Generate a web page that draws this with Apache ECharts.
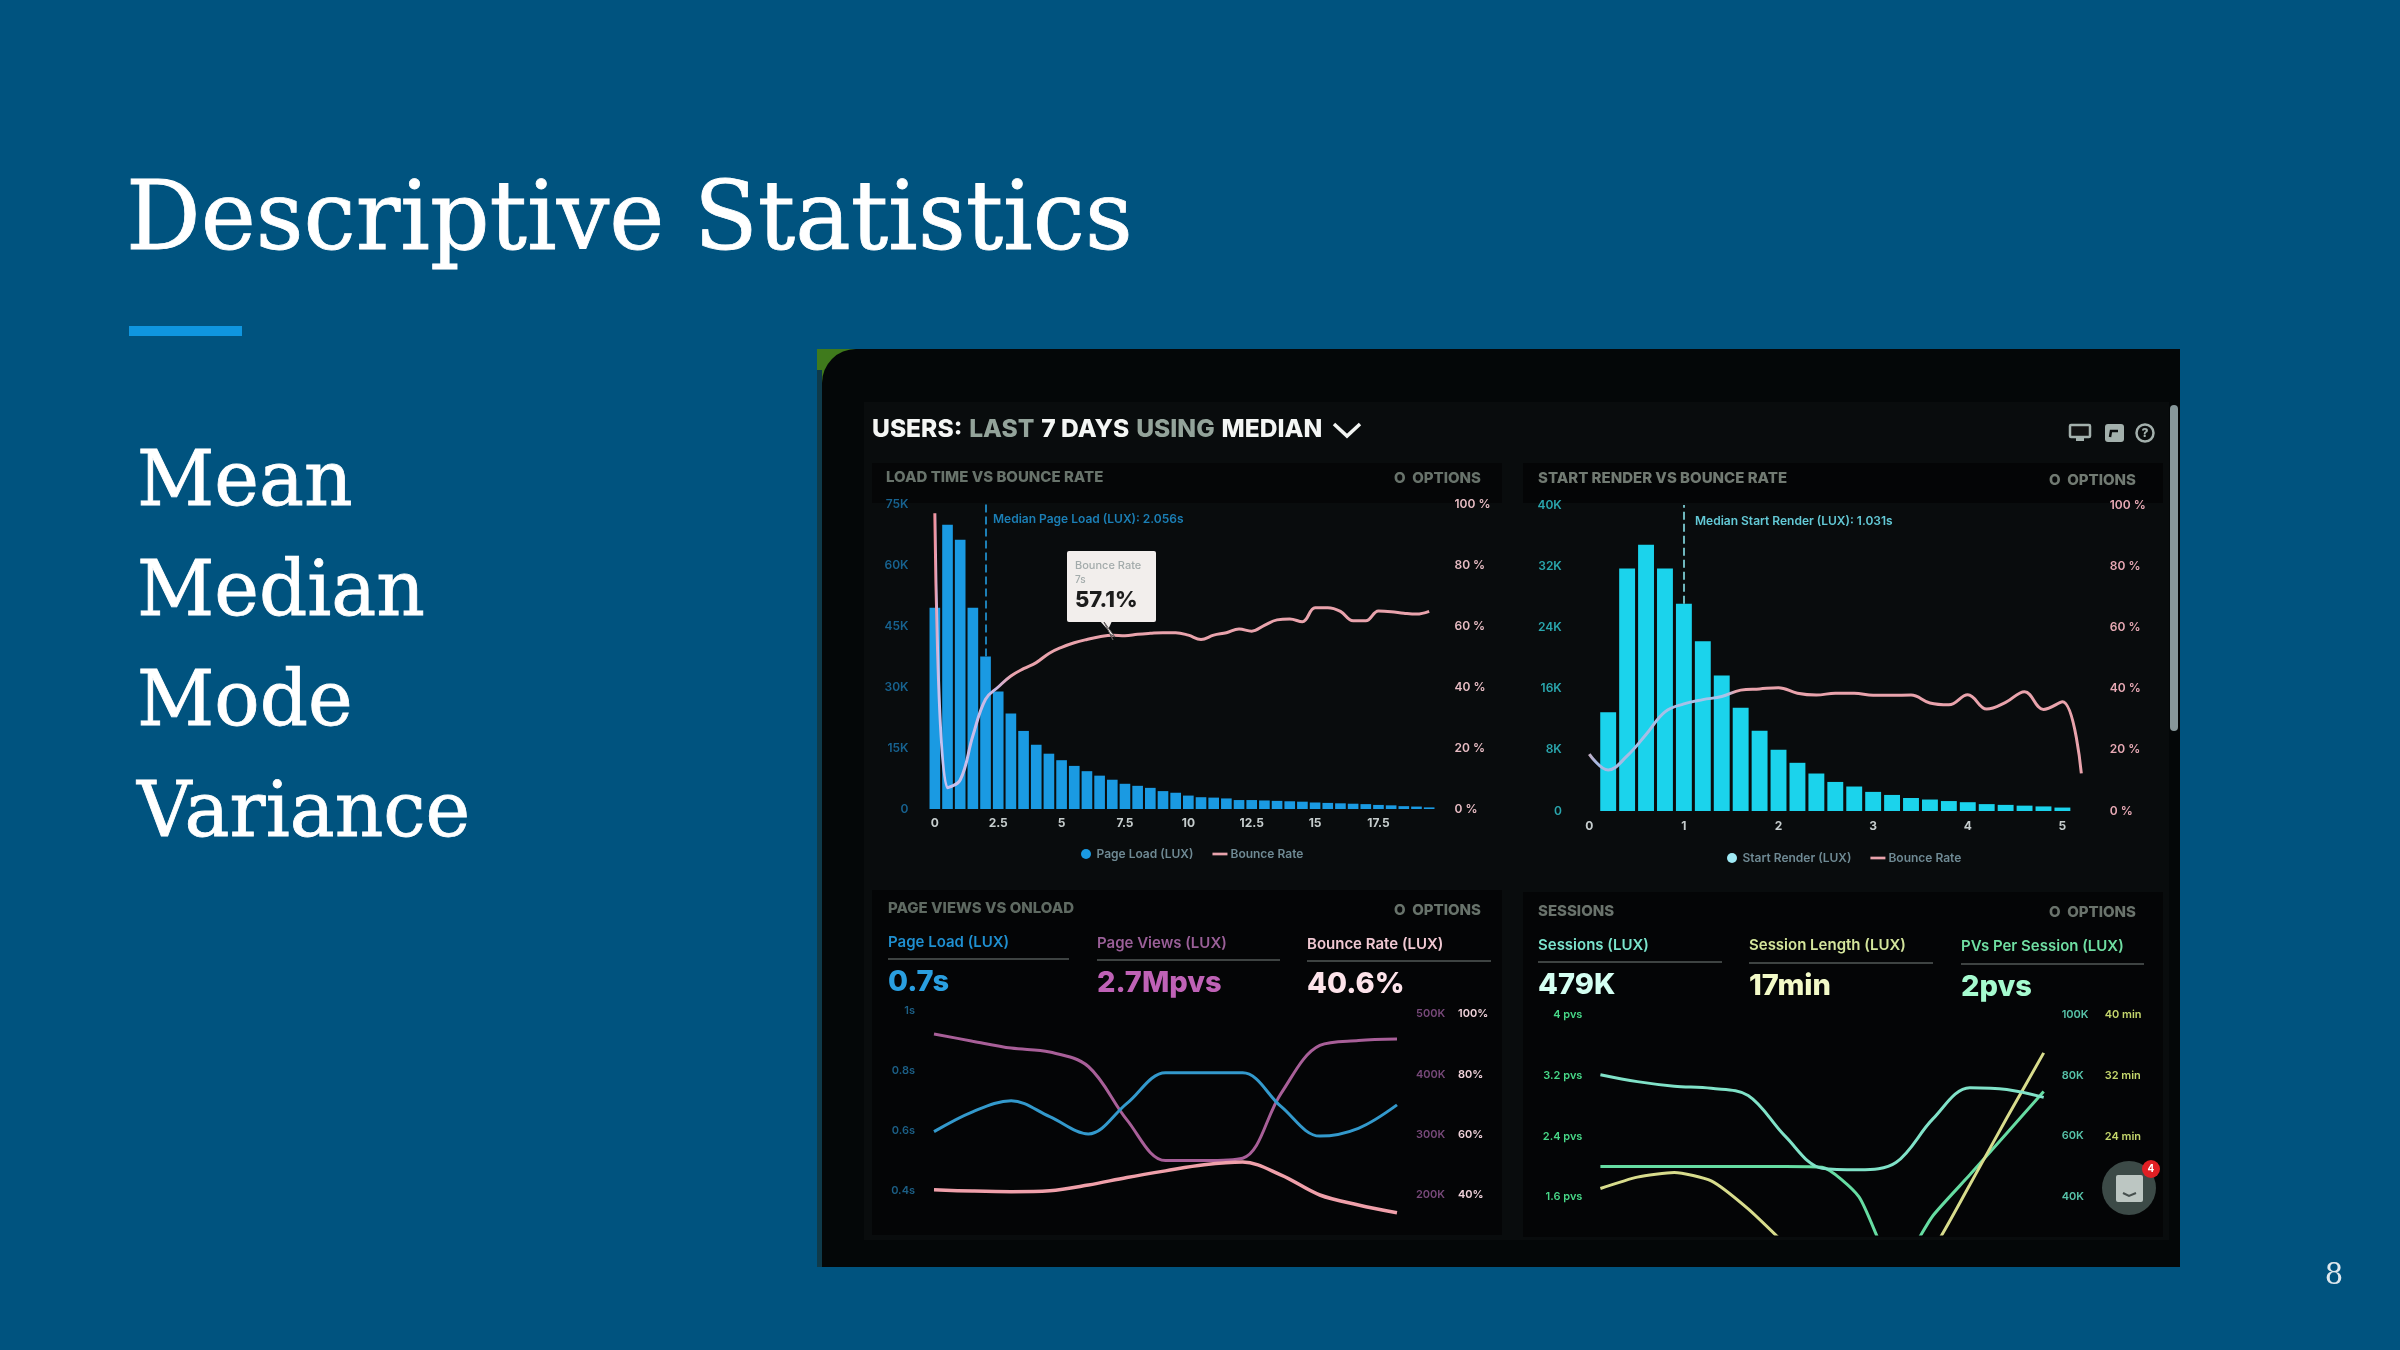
<!DOCTYPE html>
<html><head><meta charset="utf-8">
<style>html,body{margin:0;padding:0;background:#00537f}#c{width:2400px;height:1350px;filter:blur(0.5px)}</style>
<script src="https://cdn.jsdelivr.net/npm/echarts@6/dist/echarts.min.js"></script>
</head><body><div id="c"></div>
<script>
// ---------- data ----------
const loadCats = ["0","0.5","1","1.5","2","2.5","3","3.5","4","4.5","5","5.5","6","6.5","7","7.5","8","8.5","9","9.5","10","10.5","11","11.5","12","12.5","13","13.5","14","14.5","15","15.5","16","16.5","17","17.5","18","18.5","19","19.5"];
const pageLoad = [49.5,69.9,66.2,49.5,37.5,28.9,23.5,19.2,15.8,13.6,12,10.6,9.3,8.2,7.2,6.2,5.7,5.2,4.4,4,3.3,2.9,2.8,2.6,2.2,2.2,2.1,2,1.9,1.8,1.6,1.5,1.4,1.3,1.2,1,0.9,0.7,0.6,0.4];
const loadBounce = [97,7,9.5,24,36,40,43.6,46,48,51,53,54.5,55.6,56.5,57,56.8,57.3,57.6,57.8,57.8,57,55.6,57,57.8,59,58.3,60.2,62,62.3,61.4,66,66,64.8,61.7,61.7,64.9,64.7,64.2,63.9,64.8];
const renderCats = ["0","0.2","0.4","0.6","0.8","1","1.2","1.4","1.6","1.8","2","2.2","2.4","2.6","2.8","3","3.2","3.4","3.6","3.8","4","4.2","4.4","4.6","4.8","5","5.2"];
const startRender = [null,12.9,31.7,34.8,31.7,27.1,22.2,17.7,13.5,10.5,8,6.3,4.9,3.8,3.2,2.5,2.1,1.7,1.5,1.3,1.15,0.9,0.8,0.7,0.6,0.45,null];
const renderBounce = [18.6,13.4,18,25,32.4,35,36.4,37.4,39.5,39.9,40.3,38.5,37.9,38.5,38.5,37.8,37.8,37.9,35.3,34.7,38,33.3,35.5,39,33.2,35.7,12.3];
const timeCats = ["1","2","3","4","5","6","7","8","9","10","11","12","13"];
const onload = [0.598,0.664,0.701,0.648,0.59,0.692,0.794,0.794,0.794,0.681,0.583,0.609,0.687];
const pageViews = [467,455,443.5,437,413,324.5,257,257,261,369,448,456,458.5];
const bounceLine = [41.7,41.3,41.1,41.4,43.3,45.8,48,50,50.9,46.6,40,36.7,34.1];
const sessions = [80.3,78,76.5,75.8,73.4,60,49.4,48.9,51.3,65.7,76,75.4,72.8];
const sessionLength = [17.1,18.6,19.2,18.1,14.4,9.75,5,3,3,9,17.6,26.4,35];
const pvsPerSession = [2,2,2,2,2,2,1.99,1.6,0.63,1.35,1.89,2.44,2.99];
const bullets = ["Mean","Median","Mode","Variance"];
// ---------- style ----------
const UI = "Inter, 'Open Sans', sans-serif";
const SERIF = "'DejaVu Serif', serif";
const PINK = "#e9a3ac";
const LINE_ICON = 'path://M0 0H100V18H0z';
function T(x,y,text,size,fill,weight,align,z,font){
  return {type:'text',z:z||50,x:x,y:y,style:{text:text,fontSize:size,fill:fill,fontWeight:weight||600,fontFamily:font||UI,align:align||'left',verticalAlign:'middle'},silent:true};
}
function R(x,y,w,h,fill,z,r){
  return {type:'rect',z:z===undefined?-5:z,shape:{x:x,y:y,width:w,height:h,r:r||0},style:{fill:fill},silent:true};
}
function rule(x1,x2,y){return R(x1,y-1,x2-x1,2,'#3e4342',50);}
const SPACE = {axisLine:{show:false},axisTick:{show:false},splitLine:{show:false}};
function yAxis(grid,pos,min,max,vals,fmt,color,margin,size,extra){
  return Object.assign({type:'value',gridIndex:grid,position:pos,min:min,max:max},SPACE,{
    axisLabel:{customValues:vals,formatter:fmt,color:color,margin:margin,fontSize:size||11,fontWeight:600,fontFamily:UI,align:pos==='left'?'right':'left',hideOverlap:false}
  },extra||{});
}
const option = {
  backgroundColor:'#00537f',
  animation:false,
  grid:[
    {left:928.5,top:504,width:507,height:305},
    {left:1579.8,top:505,width:511,height:306},
    {left:934,top:1011,width:463,height:222},
    {left:1600.4,top:1015,width:443.3,height:219}
  ],
  legend:[
    {left:1076,top:843,itemWidth:15,itemHeight:10,itemGap:19,data:[{name:'Page Load (LUX)',icon:'circle',itemStyle:{color:'#1a9ae2'}},{name:'Bounce Rate',icon:LINE_ICON,itemStyle:{color:PINK}}],textStyle:{color:'#6f8a94',fontSize:12,fontWeight:600,fontFamily:UI,padding:[0,0,0,-2]},selectedMode:false},
    {left:1722,top:847,itemWidth:15,itemHeight:10,itemGap:19,data:[{name:'Start Render (LUX)',icon:'circle',itemStyle:{color:'#9feaf5'}},{name:'Bounce Rate',icon:LINE_ICON,itemStyle:{color:PINK}}],textStyle:{color:'#6f8a94',fontSize:12,fontWeight:600,fontFamily:UI,padding:[0,0,0,-2]},selectedMode:false}
  ],
  xAxis:[
    {type:'category',gridIndex:0,data:loadCats,axisLine:{show:false},axisTick:{show:false},axisLabel:{interval:4,color:'#c6cdcd',fontSize:12,fontWeight:700,fontFamily:UI,margin:8}},
    {type:'category',gridIndex:1,data:renderCats,axisLine:{show:false},axisTick:{show:false},axisLabel:{interval:4,color:'#c6cdcd',fontSize:12,fontWeight:700,fontFamily:UI,margin:9}},
    {type:'category',gridIndex:2,data:timeCats,boundaryGap:false,show:false},
    {type:'category',gridIndex:3,data:timeCats,boundaryGap:false,show:false}
  ],
  yAxis:[
    Object.assign({type:'value',gridIndex:0,min:0,max:75,interval:15},SPACE,{axisLabel:{formatter:v=>v?v+'K':'0',color:'#17628f',fontSize:12,fontWeight:600,fontFamily:UI,margin:20}}),
    Object.assign({type:'value',gridIndex:0,min:0,max:100,interval:20,position:'right'},SPACE,{axisLabel:{formatter:'{value} %',color:'#e7bcc3',fontSize:12,fontWeight:600,fontFamily:UI,margin:19,align:'left'}}),
    Object.assign({type:'value',gridIndex:1,min:0,max:40,interval:8},SPACE,{axisLabel:{formatter:v=>v?v+'K':'0',color:'#2aa6ad',fontSize:12,fontWeight:600,fontFamily:UI,margin:18}}),
    Object.assign({type:'value',gridIndex:1,min:0,max:100,interval:20,position:'right'},SPACE,{axisLabel:{formatter:'{value} %',color:'#e7a9b4',fontSize:12,fontWeight:600,fontFamily:UI,margin:19,align:'left'}}),
    yAxis(2,'left',0.26,1,[0.4,0.6,0.8,1],v=>v===1?'1s':v+'s','#1c5f86',19,11),
    yAxis(2,'right',137,505,[200,300,400,500],'{value}K','#78497a',19,11),
    yAxis(2,'right',27.4,101,[40,60,80,100],'{value}%','#f0d2da',61,11),
    yAxis(3,'left',1.109,4,[1.6,2.4,3.2,4],'{value} pvs','#48d888',18,11),
    yAxis(3,'right',27.7,100,[40,60,80,100],'{value}K','#58c4aa',18,11),
    yAxis(3,'right',11.09,40,[16,24,32,40],v=>v>=24?v+' min':'','#c4d66c',61,11)
  ],
  series:[
    {name:'Page Load (LUX)',type:'bar',xAxisIndex:0,yAxisIndex:0,data:pageLoad,barCategoryGap:'16%',itemStyle:{color:'#1a9ae2'},
     markLine:{silent:true,symbol:'none',label:{show:false},lineStyle:{color:'#1d7fb5',type:'dashed',width:2},data:[[{xAxis:'2',yAxis:37.5},{xAxis:'2',yAxis:75}]]}},
    {name:'Bounce Rate',type:'line',xAxisIndex:0,yAxisIndex:1,data:loadBounce,smooth:0.4,symbol:'none',z:5,
     lineStyle:{width:3,color:{type:'linear',x:0,y:0,x2:1,y2:0,colorStops:[{offset:0,color:'#f2909a'},{offset:0.005,color:'#f2909a'},{offset:0.012,color:'#c6c2f0'},{offset:0.125,color:'#c9b8e4'},{offset:0.16,color:PINK},{offset:1,color:PINK}]}}},
    {name:'Start Render (LUX)',type:'bar',xAxisIndex:1,yAxisIndex:2,data:startRender,barCategoryGap:'16%',itemStyle:{color:'#1bd3ec'},
     markLine:{silent:true,symbol:'none',label:{show:false},lineStyle:{color:'#6fb7bd',type:'dashed',width:2},data:[[{xAxis:'1',yAxis:27.1},{xAxis:'1',yAxis:40}]]}},
    {name:'Bounce Rate',type:'line',xAxisIndex:1,yAxisIndex:3,data:renderBounce,smooth:0.4,symbol:'none',z:5,
     lineStyle:{width:3,color:{type:'linear',x:0,y:0,x2:1,y2:0,colorStops:[{offset:0,color:'#c9a9b8'},{offset:0.02,color:'#a6b8e2'},{offset:0.28,color:'#a8c4ea'},{offset:0.3,color:PINK},{offset:1,color:PINK}]}}},
    {name:'Page Load',type:'line',xAxisIndex:2,yAxisIndex:4,data:onload,smooth:0.35,symbol:'none',z:4,lineStyle:{width:3,color:'#3399cc'}},
    {name:'Page Views',type:'line',xAxisIndex:2,yAxisIndex:5,data:pageViews,smooth:0.35,symbol:'none',z:3,lineStyle:{width:3,color:'#a85f98'}},
    {name:'Bounce',type:'line',xAxisIndex:2,yAxisIndex:6,data:bounceLine,smooth:0.35,symbol:'none',z:5,lineStyle:{width:3.5,color:'#f0a0aa'}},
    {name:'PVs',type:'line',xAxisIndex:3,yAxisIndex:7,data:pvsPerSession,smooth:0.2,symbol:'none',z:3,lineStyle:{width:3,color:'#66dca2'}},
    {name:'Sessions',type:'line',xAxisIndex:3,yAxisIndex:8,data:sessions,smooth:0.35,symbol:'none',z:5,lineStyle:{width:3,color:'#80e2c8'}},
    {name:'Length',type:'line',xAxisIndex:3,yAxisIndex:9,data:sessionLength,smooth:0.2,symbol:'none',z:4,lineStyle:{width:3,color:'#d8dc8c'}}
  ],
  graphic:{elements:[
    // accent bar + slide text
    R(129,326,113,10,'#0f96e0',1),
    {type:'text',z:2,x:126,y:177,scaleX:0.98,style:{text:'Descriptive Statistics',fontSize:95,fill:'#fff',stroke:'#fff',lineWidth:0.8,fontFamily:SERIF,fontWeight:400},silent:true},
    ...bullets.map((b,i)=>({type:'text',z:2,x:137,y:[446,556,666,777][i],scaleX:0.98,style:{text:b,fontSize:77,fill:'#fff',stroke:'#fff',lineWidth:0.8,fontFamily:SERIF,fontWeight:400},silent:true})),
    T(2334,1276,'8',29,'#dfe8ee',400,'center',2,SERIF),
    // screen
    R(817,349,60,60,'#3f7a1c',-9),
    R(822,349,1358,918,'#040708',-8,[34,0,0,0]),
    R(817,370,5,897,'#0f3a4a',-9),
    R(864,402,1305,838,'#090c0d',-7),
    R(872,463,630,40,'#050607',-6),
    R(1523,463,640,40,'#040506',-6),
    R(872,890,630,40,'#040506',-6),
    R(1523,892,640,40,'#040506',-6),
    R(872,930,630,305,'#040506',-6),
    R(1523,932,640,305,'#040506',-6),
    R(2170,405,8,326,'#87979a',20,4),
    // headline
    {type:'text',z:50,x:872,y:430,style:{rich:{w:{fill:'#f4f6f4',fontSize:24.6,fontWeight:800,fontFamily:UI},g:{fill:'#93a39a',fontSize:24.6,fontWeight:800,fontFamily:UI}},text:'{w|USERS:} {g|LAST} {w|7 DAYS} {g|USING} {w|MEDIAN}',verticalAlign:'middle',fontSize:24.6},silent:true},
    {type:'polyline',z:50,shape:{points:[[1334,424],[1347,436],[1360,424]]},style:{stroke:'#f2f4f2',lineWidth:3.5,fill:null},silent:true},
    // panel titles
    T(886,477,'LOAD TIME VS BOUNCE RATE',15,'#68736b',800),
    T(1394,478,'O  OPTIONS',15,'#68736b',800),
    T(1538,478,'START RENDER VS BOUNCE RATE',15,'#717a72',800),
    T(2049,480,'O  OPTIONS',15,'#717a72',800),
    T(888,908,'PAGE VIEWS VS ONLOAD',15,'#5f6a62',800),
    T(1394,910,'O  OPTIONS',15,'#68736b',800),
    T(1538,911,'SESSIONS',15,'#6a736c',800),
    T(2049,912,'O  OPTIONS',15,'#6a736c',800),
    // median labels
    T(993,519,'Median Page Load (LUX): 2.056s',12,'#1b7fb6',600),
    T(1695,521,'Median Start Render (LUX): 1.031s',12,'#63c9d6',600),
    // tooltip
    {type:'polygon',z:60,shape:{points:[[1100,621],[1112,621],[1108,630]]},style:{fill:'#f2eeec'},silent:true},
    R(1067,551,89,71,'#f2eeec',60,2),
    T(1075,566,'Bounce Rate',11,'#a3abab',500,'left',61),
    T(1075,580,'7s',10,'#a3abab',500,'left',61),
    T(1075,600,'57.1%',22,'#1c1c1c',800,'left',61),
    {type:'polygon',z:62,shape:{points:[[1104,622],[1113,640],[1110,634],[1115,637]]},style:{fill:'#f6f1ef',stroke:'#5b5556',lineWidth:1},silent:true},
    // page-views stats
    T(888,942,'Page Load (LUX)',15,'#1f8fd0',600),
    T(1097,943,'Page Views (LUX)',15,'#9a5f98',600),
    T(1307,944,'Bounce Rate (LUX)',15,'#f0c8d2',600),
    rule(888,1069,959),rule(1097,1280,960),rule(1307,1491,961),
    T(888,982,'0.7s',29,'#2a9fe0',800),
    T(1097,983,'2.7Mpvs',29,'#bf62b6',800),
    T(1307,984,'40.6%',29,'#fde3ea',800),
    // sessions stats
    T(1538,945,'Sessions (LUX)',15,'#7be4cd',600),
    T(1749,945,'Session Length (LUX)',15,'#d4e59c',600),
    T(1961,946,'PVs Per Session (LUX)',15,'#6fdea2',600),
    rule(1538,1722,962),rule(1749,1933,963),rule(1961,2144,964),
    T(1538,985,'479K',29,'#d4fff2',800),
    T(1749,986,'17min',29,'#f3fac8',800),
    T(1961,987,'2pvs',29,'#a6fbcf',800),
    // top-right icons
    {type:'rect',z:50,shape:{x:2070,y:425,width:20,height:12,r:1},style:{fill:'#111',stroke:'#a3b0ac',lineWidth:2.5},silent:true},
    R(2076,438,8,3,'#a3b0ac',50),
    R(2105,424,19,18,'#a3b0ac',50,3),
    {type:'polyline',z:51,shape:{points:[[2110,437],[2111,431],[2118,431]]},style:{stroke:'#0a0c0d',lineWidth:2.5,fill:null},silent:true},
    {type:'circle',z:50,shape:{cx:2145,cy:433,r:8.5},style:{fill:'#0a0c0d',stroke:'#a3b0ac',lineWidth:2.5},silent:true},
    T(2145,433,'?',12,'#a3b0ac',800,'center',51),
    // chat bubble
    {type:'circle',z:70,shape:{cx:2129,cy:1188,r:27},style:{fill:'#3c4a47'},silent:true},
    R(2116,1175,27,27,'#bcc6c2',71,2),
    {type:'polyline',z:72,shape:{points:[[2123,1193],[2129,1196],[2136,1193]]},style:{stroke:'#46504e',lineWidth:2,fill:null},silent:true},
    {type:'circle',z:73,shape:{cx:2151,cy:1169,r:9},style:{fill:'#e01f24'},silent:true},
    T(2151,1169,'4',10,'#fff',700,'center',74)
  ]}
};
echarts.init(document.getElementById('c'),null,{renderer:'canvas',width:2400,height:1350}).setOption(option);
</script></body></html>
